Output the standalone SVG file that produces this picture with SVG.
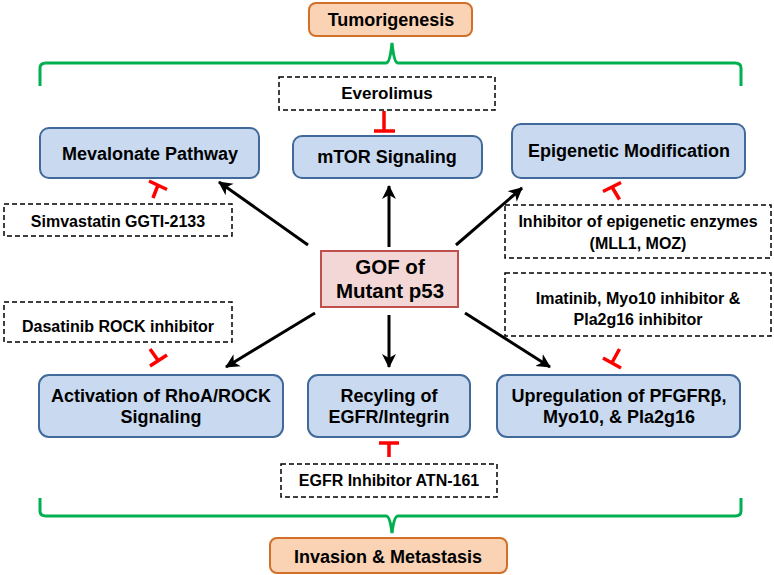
<svg xmlns="http://www.w3.org/2000/svg" width="774" height="575" viewBox="0 0 774 575">
<style>
text{font-family:"Liberation Sans",Arial,sans-serif;font-weight:bold;fill:#000;text-anchor:middle}
.node{fill:#C9DAF0;stroke:#41699A;stroke-width:2}
.out{fill:#FAD2B4;stroke:#D2702A;stroke-width:2}
.gof{fill:#F2D7D6;stroke:#C0504D;stroke-width:2}
.drug{fill:#fff;stroke:#000;stroke-width:1.5;stroke-dasharray:5,3}
.arr{stroke:#000;stroke-width:3;fill:none;marker-end:url(#ah)}
.inh{stroke:#FF0000;stroke-width:3.5;fill:none}
.br{stroke:#00B050;stroke-width:3;fill:none}
.lbl{font-size:18px}
.dl{font-size:16px}
</style>
<defs>
<marker id="ah" markerUnits="userSpaceOnUse" markerWidth="16" markerHeight="16" refX="13" refY="7" orient="auto" viewBox="0 0 16 14">
<path d="M0,0 L14,7 L0,14 L4,7 z" fill="#000"/>
</marker>
</defs>

<g id="brackets">
<path class="br" d="M40,86 L40,68 Q40,63 46,63 L386,63 Q390,63 392,43 Q394,63 398,63 L735,63 Q741,63 741,68 L741,86"/>
<path class="br" d="M40,498 L40,511 Q40,516 46,516 L386,516 Q390,516 392,533 Q394,516 398,516 L735,516 Q741,516 741,511 L741,498"/>
</g>

<g id="tumorigenesis">
<rect class="out" x="309" y="3" width="163" height="33" rx="7"/>
<text x="391" y="26" class="lbl" font-size="17.5">Tumorigenesis</text>
</g>
<g id="invasion">
<rect class="out" x="270" y="538" width="237" height="35" rx="7"/>
<text x="388" y="563" class="lbl">Invasion &amp; Metastasis</text>
</g>

<g id="everolimus">
<rect class="drug" x="279" y="77" width="216" height="33"/>
<text x="387" y="99" font-size="17">Everolimus</text>
</g>
<g id="mevalonate">
<rect class="node" x="40" y="128" width="219" height="50" rx="9"/>
<text x="150" y="160" class="lbl">Mevalonate Pathway</text>
</g>
<g id="mtor">
<rect class="node" x="293" y="136" width="189" height="42" rx="9"/>
<text x="387" y="163" class="lbl">mTOR Signaling</text>
</g>
<g id="epigenetic">
<rect class="node" x="512" y="124" width="233" height="54" rx="9"/>
<text x="629" y="157" class="lbl">Epigenetic Modification</text>
</g>
<g id="simvastatin">
<rect class="drug" x="4" y="204" width="228" height="32"/>
<text x="118" y="227" class="dl">Simvastatin GGTI-2133</text>
</g>
<g id="epi-inhibitor">
<rect class="drug" x="505" y="205" width="266" height="53"/>
<text x="638" y="227" class="dl">Inhibitor of epigenetic enzymes</text>
<text x="638" y="249" class="dl">(MLL1, MOZ)</text>
</g>
<g id="gof">
<rect class="gof" x="321" y="251" width="137" height="56"/>
<text x="390" y="274" font-size="20.5">GOF of</text>
<text x="390" y="298" font-size="20.5">Mutant p53</text>
</g>
<g id="dasatinib">
<rect class="drug" x="4" y="302" width="228" height="40"/>
<text x="118" y="332" class="dl">Dasatinib ROCK inhibitor</text>
</g>
<g id="imatinib">
<rect class="drug" x="505" y="273" width="266" height="63"/>
<text x="638" y="304" class="dl">Imatinib, Myo10 inhibitor &amp;</text>
<text x="638" y="325" class="dl">Pla2g16 inhibitor</text>
</g>
<g id="rhoa">
<rect class="node" x="39" y="375" width="244" height="62" rx="10"/>
<text x="161" y="402" class="lbl">Activation of RhoA/ROCK</text>
<text x="161" y="423" class="lbl">Signaling</text>
</g>
<g id="recycling">
<rect class="node" x="308" y="375" width="162" height="62" rx="10"/>
<text x="389" y="402" class="lbl">Recyling of</text>
<text x="389" y="423" class="lbl">EGFR/Integrin</text>
</g>
<g id="upregulation">
<rect class="node" x="497" y="375" width="243" height="62" rx="10"/>
<text x="619" y="402" class="lbl">Upregulation of PFGFRβ,</text>
<text x="619" y="423" class="lbl">Myo10, &amp; Pla2g16</text>
</g>
<g id="egfr-inhibitor">
<rect class="drug" x="281" y="464" width="216" height="33"/>
<text x="389" y="486" class="dl">EGFR Inhibitor ATN-161</text>
</g>

<g id="connectors">
<line class="arr" x1="308" y1="245" x2="219" y2="182"/>
<line class="arr" x1="389" y1="247" x2="389" y2="186"/>
<line class="arr" x1="456" y1="245" x2="522" y2="188"/>
<line class="arr" x1="315" y1="313" x2="226" y2="367"/>
<line class="arr" x1="389" y1="315" x2="389" y2="367"/>
<line class="arr" x1="465" y1="313" x2="550" y2="367"/>
<path class="inh" d="M384,111 L384,130 M374,131 L395,131"/>
<path class="inh" d="M153,198 L158,185 M149,181 L167,189.5"/>
<path class="inh" d="M619.5,199.5 L612,187 M603,191.5 L621,182.5"/>
<path class="inh" d="M150,349 L158.5,361 M150,366 L167,355"/>
<path class="inh" d="M619.5,349 L611.5,363.5 M603,358 L621,368"/>
<path class="inh" d="M389,457 L389,443 M379,443 L399,443"/>
</g>
</svg>
